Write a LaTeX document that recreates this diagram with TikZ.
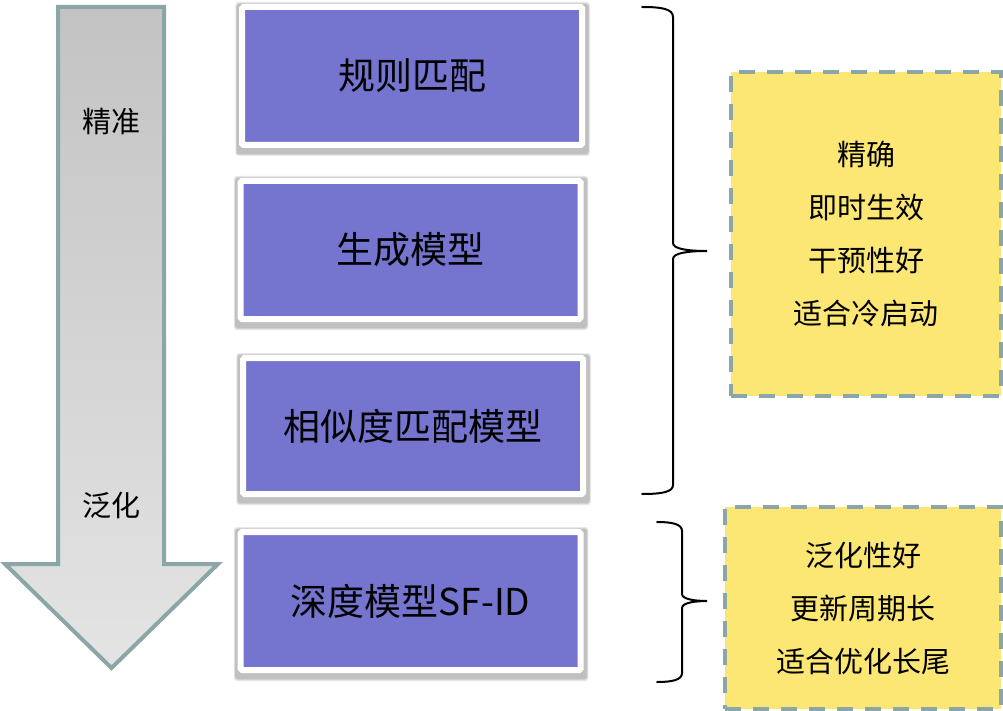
\documentclass[tikz,border=0pt]{standalone}
\usepackage{fontspec}
\setmainfont{Noto Sans CJK SC}
\usetikzlibrary{backgrounds}
\definecolor{pur}{RGB}{117,116,207}
\definecolor{yel}{RGB}{253,231,116}
\definecolor{edgec}{RGB}{139,166,166}
\definecolor{gtop}{RGB}{195,195,195}
\definecolor{gbot}{RGB}{228,228,228}
\tikzset{
  pbox/.style={rectangle, fill=pur, draw=white, line width=6pt,
    rounded corners=1.5pt,
    minimum width=340pt, minimum height=138pt, inner sep=0pt,
    font=\fontsize{37}{44}\selectfont},
  shadowlayer/.style={fill=black, opacity=0.09, rounded corners=3pt},
  ybox/.style={rectangle, fill=yel, draw=edgec, line width=4pt,
    dash pattern=on 16pt off 12pt, inner sep=0pt, align=center,
    font=\fontsize{29}{53}\selectfont},
  lbl/.style={font=\fontsize{29}{34}\selectfont, inner sep=0pt},
  bigarrow/.style={draw=edgec, line width=4pt, line join=miter,
    top color=gtop, bottom color=gbot},
  bracec/.style={draw=black, line width=2pt, line cap=round}
}
\begin{document}
\begin{tikzpicture}[x=1pt,y=-1pt]
\useasboundingbox (0,0) rectangle (1003,711);
% big down arrow
\draw[bigarrow] (58,7) -- (164,7) -- (164,564) -- (218,564) -- (111.5,668)
  -- (5,564) -- (58,564) -- cycle;
\node[lbl] (t1) at (111,121) {精准};
\node[lbl] (t2) at (111,505) {泛化};
% method boxes
\node[pbox] (b1) at (412,76) {规则匹配};
\node[pbox] (b2) at (410.5,250) {生成模型};
\node[pbox, minimum height=136pt] (b3) at (413,426) {相似度匹配模型};
\node[pbox] (b4) at (410.5,601) {深度模型SF-ID};
% soft shadows behind the method boxes
\begin{pgfonlayer}{background}
\foreach \n in {b1,b2,b3,b4}{
  \foreach \e in {0,1,2}{
    \fill[shadowlayer]
      ([xshift={-3pt-0.6*\e pt+0.6pt}, yshift={\e pt}]\n.north west)
      rectangle
      ([xshift={3pt+0.6*\e pt+0.6pt}, yshift={-6pt-\e pt}]\n.south east);
  }
}
\end{pgfonlayer}
% yellow boxes
\node[ybox, minimum width=270pt, minimum height=324pt] (y1) at (866,234)
  {精确\\即时生效\\干预性好\\适合冷启动};
\node[ybox, minimum width=276pt, minimum height=202pt] (y2) at (863,608)
  {泛化性好\\更新周期长\\适合优化长尾};
% braces
\coordinate (r1a) at (642,7);
\coordinate (r1t) at (707,251);
\coordinate (r1b) at (642,494);
\draw[bracec] (r1a) .. controls (662,7) and (673,9) .. (673,17) -- (673,243)
  .. controls (673,249) and (688,251) .. (r1t)
  .. controls (688,251) and (673,253) .. (673,259) -- (673,485)
  .. controls (673,492) and (662,494) .. (r1b);
\coordinate (r2a) at (657,522);
\coordinate (r2t) at (707,601);
\coordinate (r2b) at (657,682);
\draw[bracec] (r2a) .. controls (672,522) and (682,524) .. (682,531) -- (682,594)
  .. controls (682,599) and (694,601) .. (r2t)
  .. controls (694,601) and (682,603) .. (682,608) -- (682,673)
  .. controls (682,680) and (672,682) .. (r2b);
\end{tikzpicture}
\end{document}
